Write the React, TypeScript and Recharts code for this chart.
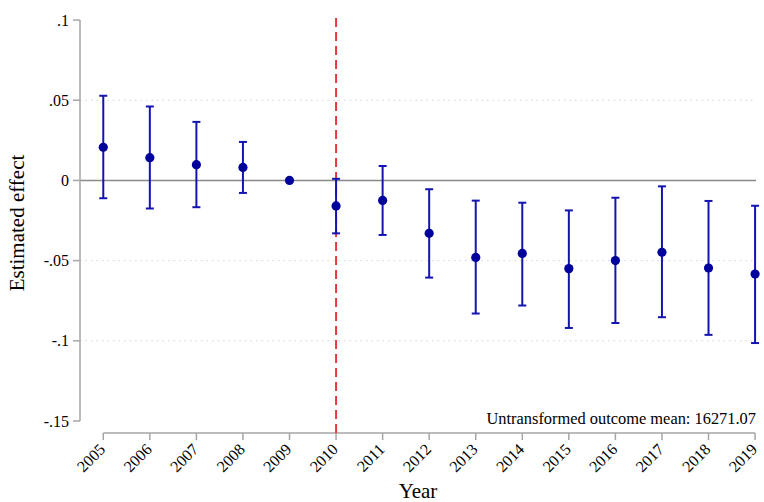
import React from "react";
import {
  ComposedChart,
  Scatter,
  ErrorBar,
  XAxis,
  YAxis,
  ReferenceLine,
} from "recharts";

const years = [2005, 2006, 2007, 2008, 2009, 2010, 2011, 2012, 2013, 2014, 2015, 2016, 2017, 2018, 2019];
const estimates = [0.0207, 0.0142, 0.0098, 0.0081, 0, -0.0159, -0.0125, -0.033, -0.048, -0.0455, -0.055, -0.05, -0.0448, -0.0546, -0.0584];
const ciLow = [-0.0111, -0.0175, -0.0167, -0.0078, null, -0.033, -0.034, -0.0606, -0.083, -0.078, -0.092, -0.0889, -0.0853, -0.0963, -0.1014];
const ciHigh = [0.0528, 0.0461, 0.0365, 0.024, null, 0.001, 0.009, -0.0055, -0.0126, -0.0139, -0.0187, -0.0108, -0.0037, -0.0128, -0.0158];
const yTicks = [-0.15, -0.1, -0.05, 0, 0.05, 0.1];
const gridValues = [0.05, -0.05, -0.1];
const treatYear = 2010;
const noteText = "Untransformed outcome mean: 16271.07";

const FONT = '"Liberation Serif", "Times New Roman", serif';
const AXIS_GRAY = "#a6a6a6";

const data = years.map((year, i) => ({
  year,
  est: estimates[i],
  err:
    ciLow[i] == null || ciHigh[i] == null
      ? null
      : [estimates[i] - (ciLow[i] as number), (ciHigh[i] as number) - estimates[i]],
}));

const fmtY = (v: number) => {
  if (v === 0) return "0";
  const s = String(Number(v.toFixed(2)));
  return s.replace("0.", ".");
};

const YearTick = (props: any) => {
  const { x, y, payload } = props;
  return (
    <g transform={`translate(${x - 1},${y + 6.5})`}>
      <text
        x={0}
        y={0}
        dy="0.35em"
        textAnchor="end"
        transform="rotate(-45)"
        fontSize={16}
        fill="#000"
        style={{ fontFamily: FONT }}
      >
        {payload.value}
      </text>
    </g>
  );
};

const Dot = (props: any) => {
  const { cx, cy } = props;
  return <circle cx={cx} cy={cy} r={4.6} fill="#00009c" />;
};

export default function App() {
  return (
    <div
      style={{
        position: "absolute",
        left: 0,
        top: 0,
        width: 764,
        height: 502,
        background: "#fff",
        fontFamily: FONT,
      }}
    >
      <ComposedChart
        width={764}
        height={502}
        data={data}
        margin={{ top: 13, right: 8, bottom: 0, left: 0 }}
      >
        <XAxis
          dataKey="year"
          type="number"
          domain={[2004.5, 2019.02]}
          ticks={years}
          interval={0}
          height={69}
          axisLine={false}
          tickLine={{ stroke: AXIS_GRAY, strokeWidth: 1.5 }}
          tickSize={7}
          tickMargin={0}
          tick={<YearTick />}
          label={{
            value: "Year",
            position: "insideBottom",
            offset: 4,
            fontSize: 21,
            fill: "#000",
            style: { fontFamily: FONT },
          }}
        />
        <YAxis
          type="number"
          domain={[-0.1575, 0.1044]}
          ticks={yTicks}
          interval={0}
          width={80}
          axisLine={false}
          tickLine={{ stroke: AXIS_GRAY, strokeWidth: 1.5 }}
          tickSize={7}
          tickMargin={4}
          tickFormatter={fmtY}
          tick={{ fontSize: 16, fill: "#000", style: { fontFamily: FONT } }}
          label={{
            value: "Estimated effect",
            angle: -90,
            position: "insideLeft",
            offset: 17,
            fontSize: 21,
            fill: "#000",
            style: { textAnchor: "middle", fontFamily: FONT },
          }}
        />
        {gridValues.map((v) => (
          <ReferenceLine
            key={`g${v}`}
            y={v}
            stroke="#d4d4d4"
            strokeWidth={1}
            strokeDasharray="1.5 4"
          />
        ))}
        <ReferenceLine y={0} stroke="#8a8a8a" strokeWidth={1.5} />
        <ReferenceLine
          segment={[
            { x: 2004.5, y: -0.15 },
            { x: 2004.5, y: 0.1 },
          ]}
          stroke={AXIS_GRAY}
          strokeWidth={1.5}
          ifOverflow="visible"
        />
        <ReferenceLine
          segment={[
            { x: 2005, y: -0.1575 },
            { x: 2019, y: -0.1575 },
          ]}
          stroke={AXIS_GRAY}
          strokeWidth={1.5}
          ifOverflow="visible"
        />
        <ReferenceLine
          x={treatYear}
          stroke="#e8383d"
          strokeWidth={2}
          strokeDasharray="9 5"
        />
        <Scatter dataKey="est" shape={<Dot />} isAnimationActive={false}>
          <ErrorBar
            dataKey="err"
            direction="y"
            width={4}
            stroke="#1414b0"
            strokeWidth={2}
            isAnimationActive={false}
          />
        </Scatter>
      </ComposedChart>
      <svg
        width={764}
        height={502}
        style={{ position: "absolute", left: 0, top: 0, pointerEvents: "none" }}
      >
        <text x={756} y={424} textAnchor="end" fontSize={16.4} fill="#000" style={{ fontFamily: FONT }}>
          {noteText}
        </text>
      </svg>
    </div>
  );
}
